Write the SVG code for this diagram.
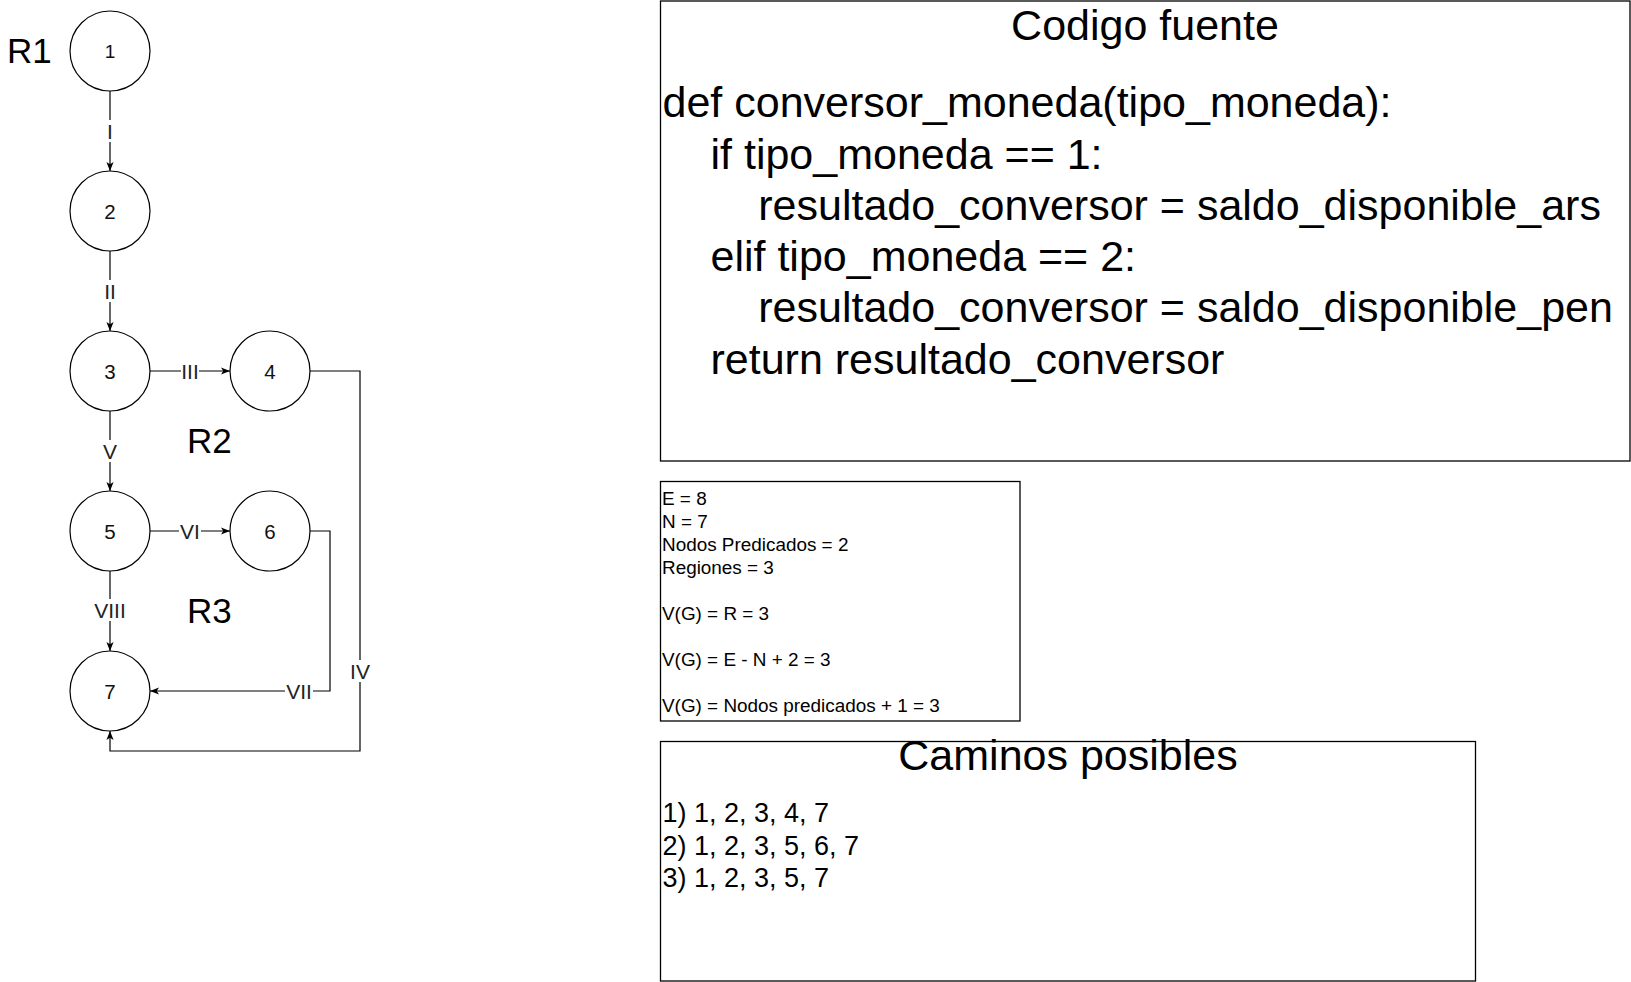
<svg xmlns="http://www.w3.org/2000/svg" width="1631" height="982" viewBox="0 0 1631 982">
<defs>
<marker id="arr" viewBox="0 0 10 8" refX="10" refY="4" markerWidth="9" markerHeight="7.2" markerUnits="userSpaceOnUse" orient="auto">
<path d="M0,0 L10,4 L0,8 L2.5,4 Z" fill="#000"/>
</marker>
</defs>
<style>
text{font-family:"Liberation Sans",Arial,Helvetica,sans-serif;fill:#000}
.node circle{fill:#fff;stroke:#000;stroke-width:1.2}
.node text{font-size:20.5px;text-anchor:middle;fill:#111}
.edge{fill:none;stroke:#000;stroke-width:1.2}
.lblbg{fill:#fff}
.lbl{font-size:21px;text-anchor:middle;fill:#222}
.region{font-size:35px}
.box{fill:#fff;stroke:#000;stroke-width:1.3}
.code{font-size:43px}
.title{font-size:43px;text-anchor:middle}
.metric{font-size:18.9px}
.path{font-size:27px}
</style>
<rect width="1631" height="982" fill="#fff"/>

<g id="connectors">
<path class="edge" d="M110,91 L110,171" marker-end="url(#arr)"/>
<path class="edge" d="M110,251 L110,331" marker-end="url(#arr)"/>
<path class="edge" d="M150,371 L230,371" marker-end="url(#arr)"/>
<path class="edge" d="M110,411 L110,491" marker-end="url(#arr)"/>
<path class="edge" d="M150,531 L230,531" marker-end="url(#arr)"/>
<path class="edge" d="M110,571 L110,651" marker-end="url(#arr)"/>
<path class="edge" d="M310,531 L330,531 L330,691 L150,691" marker-end="url(#arr)"/>
<path class="edge" d="M310,371 L360,371 L360,751 L110,751 L110,731" marker-end="url(#arr)"/>
<rect class="lblbg" x="106" y="120" width="8" height="22"/>
<text class="lbl" x="110" y="138.5">I</text>
<rect class="lblbg" x="103" y="280" width="14" height="22"/>
<text class="lbl" x="110" y="298.5">II</text>
<rect class="lblbg" x="181" y="360" width="18" height="22"/>
<text class="lbl" x="190" y="378.5">III</text>
<rect class="lblbg" x="101" y="440" width="18" height="22"/>
<text class="lbl" x="110" y="458.5">V</text>
<rect class="lblbg" x="179" y="520" width="22" height="22"/>
<text class="lbl" x="190" y="538.5">VI</text>
<rect class="lblbg" x="93" y="599" width="34" height="22"/>
<text class="lbl" x="110" y="617.5">VIII</text>
<rect class="lblbg" x="285" y="680" width="28" height="22"/>
<text class="lbl" x="299" y="698.5">VII</text>
<rect class="lblbg" x="349" y="660" width="22" height="22"/>
<text class="lbl" x="360" y="678.5">IV</text>
</g>

<g id="node1" class="node"><circle cx="110" cy="51" r="40"/><text x="110" y="57.5" style="font-size:19px">1</text></g>
<g id="node2" class="node"><circle cx="110" cy="211" r="40"/><text x="110" y="218.5">2</text></g>
<g id="node3" class="node"><circle cx="110" cy="371" r="40"/><text x="110" y="378.5">3</text></g>
<g id="node4" class="node"><circle cx="270" cy="371" r="40"/><text x="270" y="378.5">4</text></g>
<g id="node5" class="node"><circle cx="110" cy="531" r="40"/><text x="110" y="538.5">5</text></g>
<g id="node6" class="node"><circle cx="270" cy="531" r="40"/><text x="270" y="538.5">6</text></g>
<g id="node7" class="node"><circle cx="110" cy="691" r="40"/><text x="110" y="698.5">7</text></g>

<g id="regions">
<text class="region" x="7" y="63">R1</text>
<text class="region" x="187" y="453">R2</text>
<text class="region" x="187" y="623">R3</text>
</g>

<g id="codigo">
<rect class="box" x="660.5" y="1" width="969.5" height="460"/>
<text class="title" x="1145" y="40">Codigo fuente</text>
<text class="code" x="662.5" y="117">def conversor_moneda(tipo_moneda):</text>
<text class="code" x="710.5" y="168.5">if tipo_moneda == 1:</text>
<text class="code" x="758.3" y="219.5">resultado_conversor = saldo_disponible_ars</text>
<text class="code" x="710.5" y="271">elif tipo_moneda == 2:</text>
<text class="code" x="758.3" y="322">resultado_conversor = saldo_disponible_pen</text>
<text class="code" x="710.5" y="373.5">return resultado_conversor</text>
</g>

<g id="metricas">
<rect class="box" x="660.5" y="481.5" width="359.5" height="239.5"/>
<text class="metric" x="662" y="505">E = 8</text>
<text class="metric" x="662" y="528">N = 7</text>
<text class="metric" x="662" y="551">Nodos Predicados = 2</text>
<text class="metric" x="662" y="574">Regiones = 3</text>
<text class="metric" x="662" y="620">V(G) = R = 3</text>
<text class="metric" x="662" y="666">V(G) = E - N + 2 = 3</text>
<text class="metric" x="662" y="712">V(G) = Nodos predicados + 1 = 3</text>
</g>

<g id="caminos">
<rect class="box" x="660.5" y="741.5" width="815" height="239.5"/>
<text class="title" x="1068" y="770">Caminos posibles</text>
<text class="path" x="662.5" y="822">1) 1, 2, 3, 4, 7</text>
<text class="path" x="662.5" y="855">2) 1, 2, 3, 5, 6, 7</text>
<text class="path" x="662.5" y="887">3) 1, 2, 3, 5, 7</text>
</g>
</svg>
